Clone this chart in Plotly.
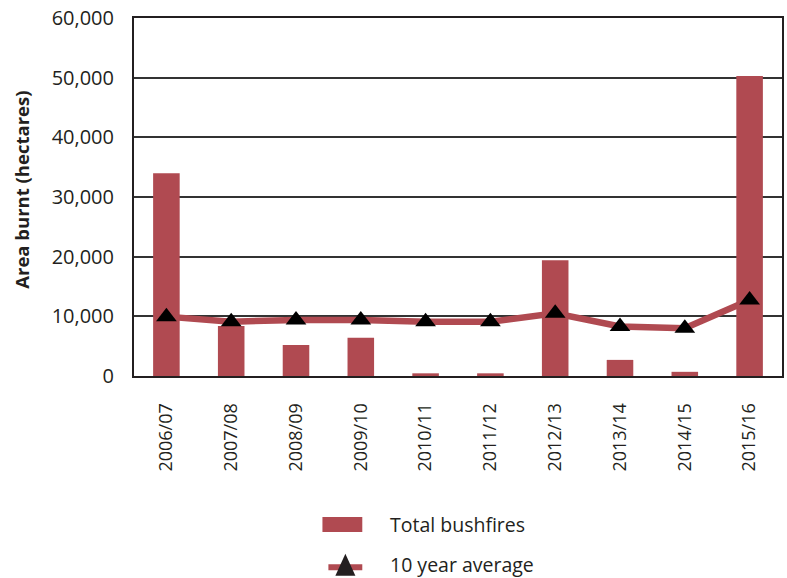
import plotly.graph_objects as go

# Bushfire area burnt by financial year (hectares)
seasons = ["2006/07", "2007/08", "2008/09", "2009/10", "2010/11",
           "2011/12", "2012/13", "2013/14", "2014/15", "2015/16"]
total_bushfires = [34000, 8400, 5200, 6400, 450, 450, 19400, 2700, 700, 50300]
ten_year_average = [9950, 9100, 9400, 9400, 9100, 9100, 10500, 8300, 8000, 12750]
y_ticks = [0, 10000, 20000, 30000, 40000, 50000, 60000]

BAR_RED = "#b04a51"
INK = "#231f20"
FONT = "Open Sans"

fig = go.Figure()

fig.add_trace(go.Bar(
    x=seasons, y=total_bushfires, name="Total bushfires",
    marker=dict(color=BAR_RED, line=dict(width=0)),
    width=0.41, showlegend=False,
))

fig.add_trace(go.Scatter(
    x=seasons, y=ten_year_average, name="10 year average",
    mode="lines+markers",
    line=dict(color=BAR_RED, width=6.5),
    marker=dict(symbol="triangle-up", size=18, color="black",
                line=dict(width=0)),
    showlegend=False,
))

# Hand-built legend below the plot
shapes = [
    dict(type="rect", xref="paper", yref="paper",
         x0=0.2908, x1=0.3523, y0=-0.436, y1=-0.394,
         fillcolor=BAR_RED, line=dict(width=0)),
    dict(type="line", xref="paper", yref="paper",
         x0=0.3, x1=0.3523, y0=-0.534, y1=-0.534,
         line=dict(color=BAR_RED, width=6)),
    dict(type="path", xref="paper", yref="paper",
         xsizemode="pixel", ysizemode="pixel",
         xanchor=0.3262, yanchor=-0.527,
         path="M -10,-11 L 10,-11 L 0,11 Z",
         fillcolor=INK, line=dict(width=0)),
]
annotations = [
    dict(text="Total bushfires", xref="paper", yref="paper",
         x=0.392, y=-0.415, xanchor="left", yanchor="middle",
         showarrow=False, font=dict(family=FONT, size=19.5, color=INK)),
    dict(text="10 year average", xref="paper", yref="paper",
         x=0.392, y=-0.526, xanchor="left", yanchor="middle",
         showarrow=False, font=dict(family=FONT, size=19.5, color=INK)),
    dict(text="<b>Area burnt (hectares)</b>", xref="paper", yref="paper",
         x=-0.173, y=0.52, xanchor="center", yanchor="middle",
         textangle=-90, showarrow=False,
         font=dict(family=FONT, size=18.5, color=INK)),
]

fig.update_layout(
    width=787, height=578,
    margin=dict(l=134, r=3, t=18, b=202),
    paper_bgcolor="white", plot_bgcolor="white",
    font=dict(family=FONT, size=18, color=INK),
    shapes=shapes, annotations=annotations,
    xaxis=dict(
        range=[-0.5, 9.5], tickangle=-90,
        showline=True, linecolor=INK, linewidth=2, mirror=True,
        showgrid=False, ticks="", ticklabelstandoff=18,
        tickfont=dict(family=FONT, size=18),
    ),
    yaxis=dict(
        range=[0, 60000], tickvals=y_ticks,
        ticktext=[f"{v:,}" for v in y_ticks],
        showline=True, linecolor=INK, linewidth=2, mirror=True,
        showgrid=True, gridcolor="#333333", gridwidth=1.5,
        zeroline=False, ticks="", ticklabelstandoff=14,
        tickfont=dict(family=FONT, size=20),
    ),
)

fig.write_html("out.html")
